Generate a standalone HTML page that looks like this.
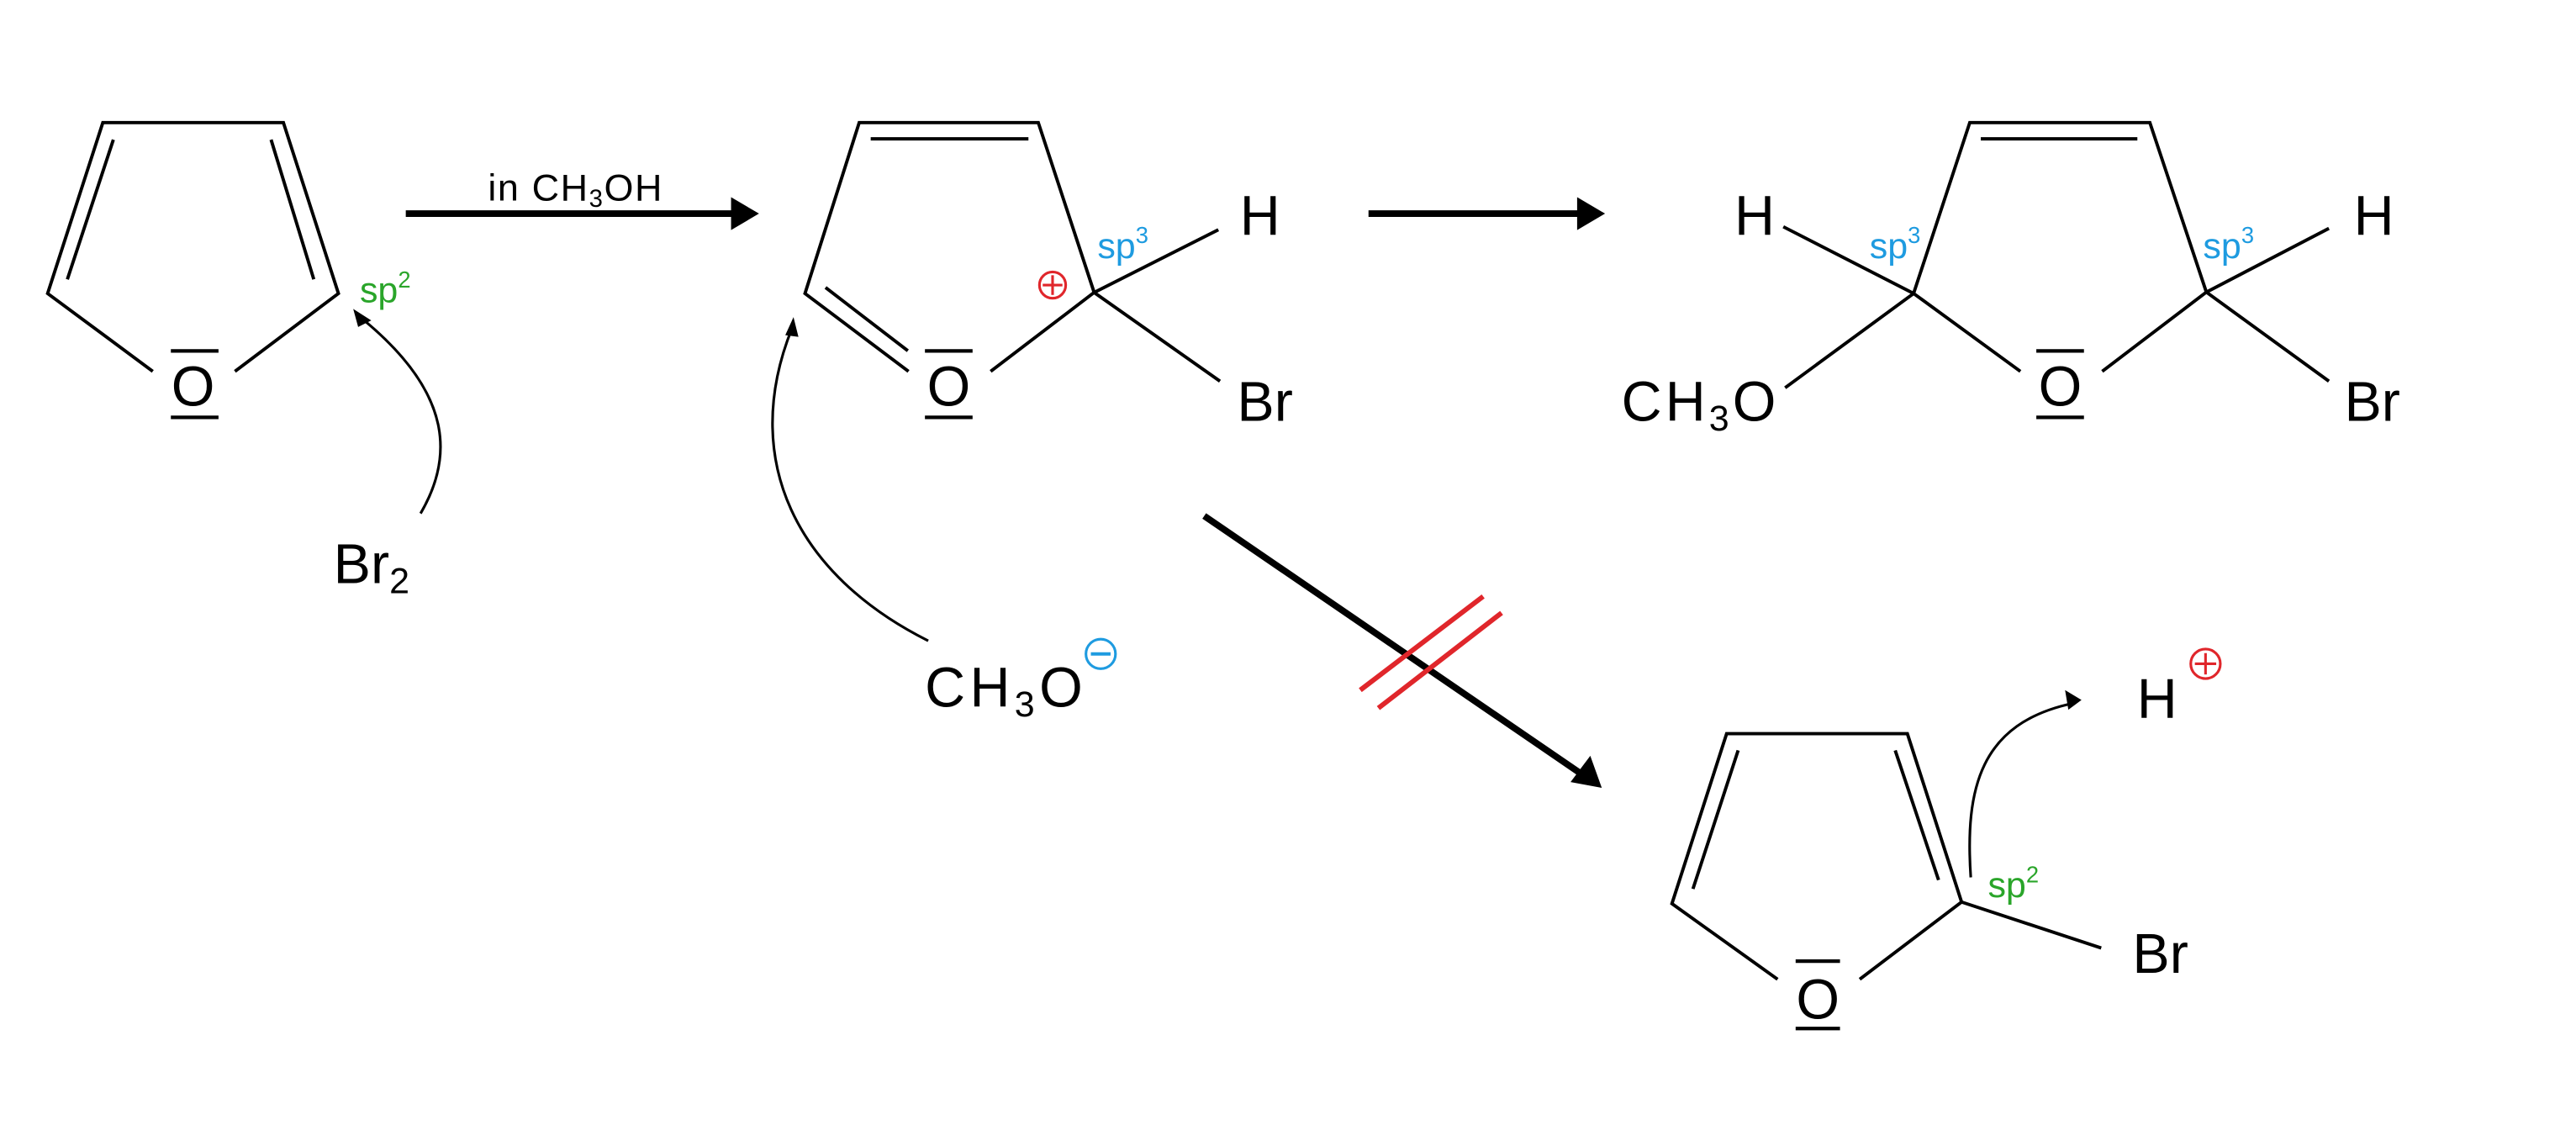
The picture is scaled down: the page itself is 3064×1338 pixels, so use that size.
<!DOCTYPE html>
<html><head><meta charset="utf-8"><style>
html,body{margin:0;padding:0;background:#fff;}
svg{display:block;}
text{font-family:"Liberation Sans",sans-serif;}
</style></head><body>
<svg width="3064" height="1338" viewBox="0 0 1568 684.7" xmlns="http://www.w3.org/2000/svg">
<rect width="1568" height="684.7" fill="#fff"/>
<g stroke="#000" stroke-width="2" fill="none" stroke-linejoin="miter">
<polyline points="93,226 29,178.6 62.6,74.6 172.5,74.6 206,178.6 143,226"/>
<line x1="69" y1="85" x2="41" y2="170"/>
<line x1="165" y1="85" x2="191" y2="170"/>
<polyline points="553,226 490,178.6 523,74.6 632,74.6 666,178 603,226"/>
<line x1="530" y1="84.5" x2="626" y2="84.5"/>
<line x1="502.5" y1="175" x2="552.6" y2="213.5"/>
<line x1="666" y1="178" x2="741.6" y2="139.8"/>
<line x1="666" y1="178" x2="742.6" y2="232"/>
<polyline points="1229.8,226 1164.8,178.6 1199,74.6 1308.6,74.6 1343,177.8 1279.6,226"/>
<line x1="1205.7" y1="84.5" x2="1301" y2="84.5"/>
<line x1="1164.8" y1="178.6" x2="1085.5" y2="138"/>
<line x1="1164.8" y1="178.6" x2="1086.6" y2="236"/>
<line x1="1343" y1="177.8" x2="1417.6" y2="139"/>
<line x1="1343" y1="177.8" x2="1417.6" y2="232"/>
<polyline points="1082,596 1017.7,550 1051,446.5 1161,446.5 1194,549 1132,596"/>
<line x1="1058" y1="456.7" x2="1030.5" y2="541"/>
<line x1="1153.6" y1="456.7" x2="1180" y2="535.6"/>
<line x1="1194" y1="549" x2="1279" y2="577"/>
</g>
<g stroke="#000" stroke-width="2.2">
<line x1="104" y1="213.6" x2="133" y2="213.6"/><line x1="104" y1="254" x2="133" y2="254"/>
<line x1="563" y1="213.6" x2="592" y2="213.6"/><line x1="563" y1="254" x2="592" y2="254"/>
<line x1="1239.5" y1="213.6" x2="1268.5" y2="213.6"/><line x1="1239.5" y1="254" x2="1268.5" y2="254"/>
<line x1="1093" y1="585" x2="1120" y2="585"/><line x1="1093" y1="626" x2="1120" y2="626"/>
</g>
<g stroke="#000" stroke-width="4">
<line x1="247" y1="130" x2="446" y2="130"/>
<line x1="833" y1="130" x2="961" y2="130"/>
<line x1="733" y1="314" x2="964" y2="472"/>
</g>
<polygon points="462,130 445,120 445,140" fill="#000"/>
<polygon points="977,130 960,120 960,140" fill="#000"/>
<polygon points="975,479.5 956,476 968,460" fill="#000"/>
<g stroke="#e0262b" stroke-width="3">
<line x1="828" y1="420" x2="902.8" y2="363"/>
<line x1="839" y1="431" x2="914" y2="373"/>
</g>
<g stroke="#000" stroke-width="1.6" fill="none">
<path d="M256,312.5 C275,280 278,240 218,192"/>
<path d="M565,390 C485,350 450,280 482,200"/>
<path d="M1199.6,534 C1196,480 1205,440 1262,428"/>
</g>
<polygon points="215,188 226,195 218,199" fill="#000"/>
<polygon points="483,193 486,205 478,204" fill="#000"/>
<polygon points="1267,426 1257,420 1259,432" fill="#000"/>
<g fill="none" stroke-width="1.6">
<circle cx="640.7" cy="173.5" r="8" stroke="#e0262b"/>
<line x1="634.7" y1="173.5" x2="646.7" y2="173.5" stroke="#e0262b"/>
<line x1="640.7" y1="167.5" x2="640.7" y2="179.5" stroke="#e0262b"/>
<circle cx="1342.5" cy="404" r="9" stroke="#e0262b"/>
<line x1="1336" y1="404" x2="1349" y2="404" stroke="#e0262b"/>
<line x1="1342.5" y1="397.5" x2="1342.5" y2="410.5" stroke="#e0262b"/>
<circle cx="670" cy="398" r="9" stroke="#1e9be0"/>
<line x1="664" y1="398" x2="676" y2="398" stroke="#1e9be0" stroke-width="2"/>
</g>
<g font-size="34" fill="#000">
<text x="117.5" y="247" text-anchor="middle">O</text>
<text x="577.5" y="247" text-anchor="middle">O</text>
<text x="1254" y="247" text-anchor="middle">O</text>
<text x="1106.5" y="620" text-anchor="middle">O</text>
<text x="767" y="143" text-anchor="middle">H</text>
<text x="753" y="256">Br</text>
<text x="1068" y="143" text-anchor="middle">H</text>
<text x="1445" y="143" text-anchor="middle">H</text>
<text x="1427" y="256">Br</text>
<text x="1298" y="592">Br</text>
<text x="1313" y="437" text-anchor="middle">H</text>
<text x="203" y="355">Br<tspan font-size="22" dy="6">2</tspan></text>
<text x="987" y="256" textLength="94">CH<tspan font-size="22" dy="6">3</tspan><tspan dy="-6">O</tspan></text>
<text x="563" y="430" textLength="96">CH<tspan font-size="22" dy="6">3</tspan><tspan dy="-6">O</tspan></text>
</g>
<text x="297" y="122" font-size="23" fill="#000" textLength="106">in CH<tspan font-size="15" dy="4">3</tspan><tspan dy="-4">OH</tspan></text>
<g font-size="22">
<text x="219" y="184" fill="#2aa52a">sp<tspan font-size="14" dy="-9">2</tspan></text>
<text x="1210" y="546" fill="#2aa52a">sp<tspan font-size="14" dy="-9">2</tspan></text>
<text x="668" y="157" fill="#1e9be0">sp<tspan font-size="14" dy="-9">3</tspan></text>
<text x="1138" y="157" fill="#1e9be0">sp<tspan font-size="14" dy="-9">3</tspan></text>
<text x="1341" y="157" fill="#1e9be0">sp<tspan font-size="14" dy="-9">3</tspan></text>
</g>
</svg>
</body></html>
